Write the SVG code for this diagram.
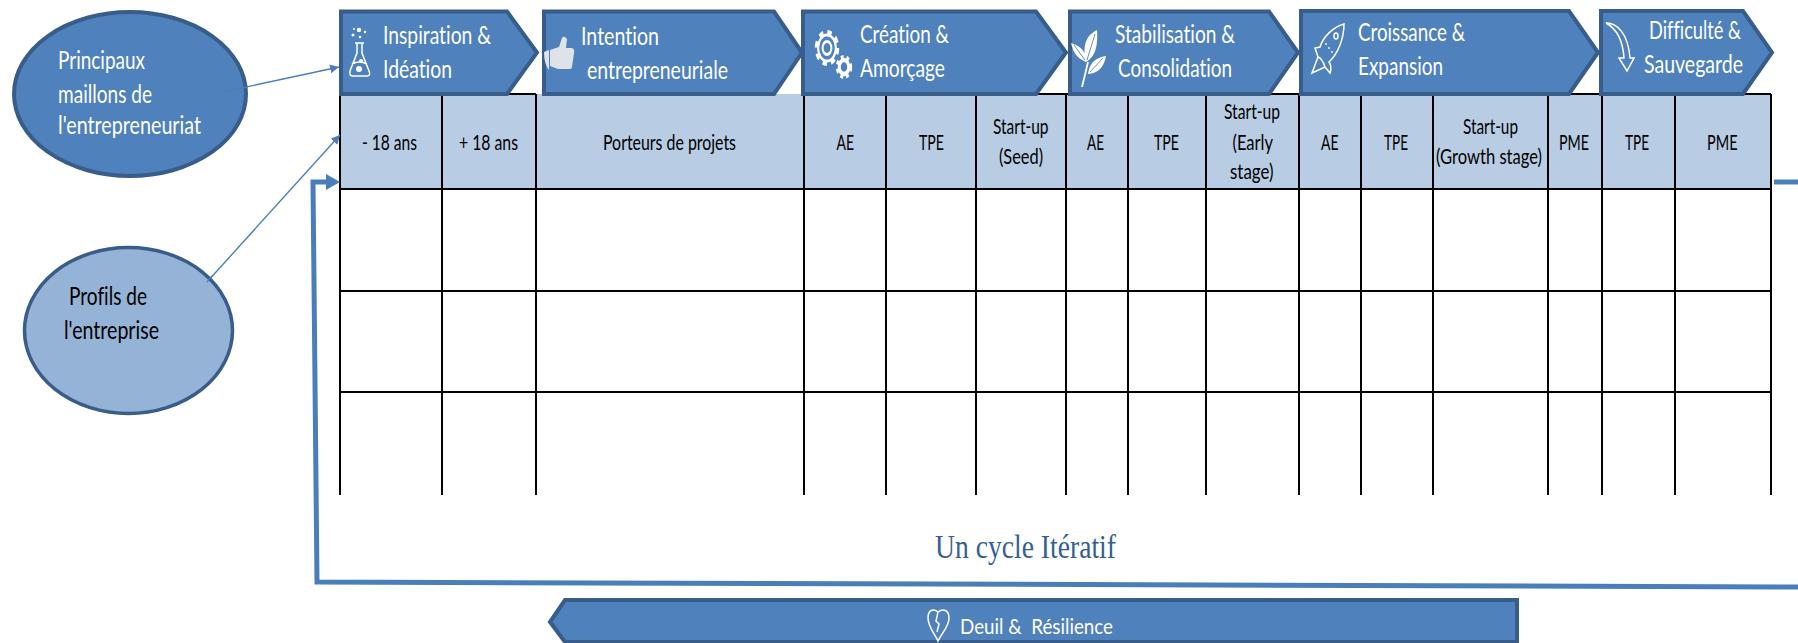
<svg xmlns="http://www.w3.org/2000/svg" width="1798" height="643" viewBox="0 0 1798 643">
<style>
text{font-family:Lato,"Liberation Sans",sans-serif;font-variant-ligatures:none}
.c{fill:#4f81bd;stroke:#385d8a;stroke-width:4;stroke-linejoin:miter}
.w{fill:#fff;font-size:25px}
.h{fill:#000;font-size:21px}
.g{stroke:#000;stroke-width:2;fill:none}
.a{stroke:#4a7ebb;stroke-width:1.4;fill:none}
.l{stroke:#4a7ebb;stroke-width:5;fill:none}
.i{fill:none;stroke:#fff;stroke-width:1.5}
.f{fill:#fff;stroke:none}
</style>
<defs>
<marker id="ah" markerUnits="userSpaceOnUse" markerWidth="10" markerHeight="10" refX="9" refY="4.5" orient="auto"><path d="M0,0L9,4.5L0,9Z" fill="#4a7ebb"/></marker>
</defs>
<g id="table">
<rect x="340" y="94" width="1431" height="95" fill="#b8cce4"/>
<path class="g" d="M340,94H536M804,94H1771M340,189H1771M340,291H1771M340,392H1771"/>
<path class="g" d="M340,94V495M442,94V495M536,94V495M804,94V495M886,94V495M976,94V495M1066,94V495M1128,94V495M1206,94V495M1299,94V495M1361,94V495M1433,94V495M1548,94V495M1602,94V495M1675,94V495M1771,94V495"/>
<text class="h" x="362" y="150" textLength="55" lengthAdjust="spacingAndGlyphs">- 18 ans</text>
<text class="h" x="459" y="150" textLength="59" lengthAdjust="spacingAndGlyphs">+ 18 ans</text>
<text class="h" x="603" y="150" textLength="133" lengthAdjust="spacingAndGlyphs">Porteurs de projets</text>
<text class="h" x="836.500" y="150" textLength="17.500" lengthAdjust="spacingAndGlyphs">AE</text>
<text class="h" x="919" y="150" textLength="25" lengthAdjust="spacingAndGlyphs">TPE</text>
<text class="h" x="993" y="134" textLength="55.500" lengthAdjust="spacingAndGlyphs">Start-up</text>
<text class="h" x="999" y="164" textLength="44" lengthAdjust="spacingAndGlyphs">(Seed)</text>
<text class="h" x="1087" y="150" textLength="17" lengthAdjust="spacingAndGlyphs">AE</text>
<text class="h" x="1154" y="150" textLength="25" lengthAdjust="spacingAndGlyphs">TPE</text>
<text class="h" x="1224" y="119" textLength="56" lengthAdjust="spacingAndGlyphs">Start-up</text>
<text class="h" x="1232.500" y="150" textLength="40.500" lengthAdjust="spacingAndGlyphs">(Early</text>
<text class="h" x="1230" y="179" textLength="43.500" lengthAdjust="spacingAndGlyphs">stage)</text>
<text class="h" x="1321" y="150" textLength="17.500" lengthAdjust="spacingAndGlyphs">AE</text>
<text class="h" x="1384" y="150" textLength="24" lengthAdjust="spacingAndGlyphs">TPE</text>
<text class="h" x="1463" y="134" textLength="55" lengthAdjust="spacingAndGlyphs">Start-up</text>
<text class="h" x="1436" y="164" textLength="106" lengthAdjust="spacingAndGlyphs">(Growth stage)</text>
<text class="h" x="1559" y="150" textLength="30" lengthAdjust="spacingAndGlyphs">PME</text>
<text class="h" x="1625" y="150" textLength="24" lengthAdjust="spacingAndGlyphs">TPE</text>
<text class="h" x="1707" y="150" textLength="30.500" lengthAdjust="spacingAndGlyphs">PME</text>
</g>
<g id="connectors">
<path class="a" marker-end="url(#ah)" d="M223,92L339,67"/>
<path class="a" marker-end="url(#ah)" d="M207,282L340,135"/>
<path class="l" d="M1798,587L317,582L313,182H328"/>
<path d="M326,174L340,182L326,190Z" fill="#4a7ebb"/>
<path class="l" d="M1774,182H1798"/>
</g>
<g id="ellipse-maillons">
<ellipse cx="130" cy="94" rx="116" ry="82" fill="#4f81bd" stroke="#385d8a" stroke-width="4"/>
<path class="a" d="M223,92L247,87"/>
<text class="w" x="58" y="69" textLength="87" lengthAdjust="spacingAndGlyphs">Principaux</text>
<text class="w" x="58" y="103" textLength="94" lengthAdjust="spacingAndGlyphs">maillons de</text>
<text class="w" x="58" y="134" textLength="143" lengthAdjust="spacingAndGlyphs">l'entrepreneuriat</text>
</g>
<g id="ellipse-profils">
<ellipse cx="128.500" cy="330.500" rx="104" ry="83" fill="#95b3d7" stroke="#385d8a" stroke-width="3.500"/>
<path class="a" d="M207,282L212,276"/>
<text class="w" x="69" y="305" textLength="78" lengthAdjust="spacingAndGlyphs" style="fill:#000">Profils de</text>
<text class="w" x="64" y="339" textLength="95" lengthAdjust="spacingAndGlyphs" style="fill:#000">l'entreprise</text>
</g>
<g id="inspiration">
<path class="c" d="M341,11.500H507L537,52.500L507,94H341Z"/>
<path class="i" d="M357,43V53L350,71Q349,76 353,76H367Q371,76 369,71L362,53V43M355,43H364M352,64Q359,60 367,64"/>
<g class="f"><circle cx="359" cy="69" r="3"/><circle cx="361" cy="61" r="2"/><circle cx="359" cy="30" r="2.200"/><circle cx="353" cy="35" r="1.500"/><circle cx="365" cy="32" r="1.200"/><circle cx="354" cy="29" r="1"/><circle cx="360" cy="37" r="1.300"/></g>
<text class="w" x="383" y="44" textLength="108" lengthAdjust="spacingAndGlyphs">Inspiration &amp;</text>
<text class="w" x="383" y="78" textLength="69" lengthAdjust="spacingAndGlyphs">Idéation</text>
</g>
<g id="intention">
<path class="c" d="M544,11.500H774L802,52.500L774,94H544Z"/>
<path d="M550,50L559,47L562,38Q564,35 567,39L566,48H572Q575,49 574,53L572,67Q572,69 569,69H558L550,66ZM544,52L549,50V70Q544,64 544,52Z" fill="#dfe3e8"/>
<text class="w" x="581" y="45" textLength="78" lengthAdjust="spacingAndGlyphs">Intention</text>
<text class="w" x="587" y="79" textLength="141" lengthAdjust="spacingAndGlyphs">entrepreneuriale</text>
</g>
<g id="creation">
<path class="c" d="M803,11.500H1036L1066,52.500L1036,94H803Z"/>
<g transform="translate(827,48) scale(.68,1)" fill="none" stroke="#fff"><circle r="15" stroke-width="6" stroke-dasharray="6 5.800"/><circle r="13" stroke-width="3"/><circle r="6.500" stroke-width="3"/></g>
<g transform="translate(844,67) scale(.68,1)" fill="none" stroke="#fff"><circle r="9.500" stroke-width="5" stroke-dasharray="4 4"/><circle r="7" stroke-width="4.500"/></g>
<text class="w" x="860" y="43" textLength="89" lengthAdjust="spacingAndGlyphs">Création &amp;</text>
<text class="w" x="860" y="77" textLength="85" lengthAdjust="spacingAndGlyphs">Amorçage</text>
</g>
<g id="stabilisation">
<path class="c" d="M1070,11.500H1269L1298,52.500L1269,94H1070Z"/>
<path d="M1082,87Q1085,75 1088,62" fill="none" stroke="#fff" stroke-width="1.800"/>
<path class="f" d="M1097,30Q1080,38 1086,62Q1099,55 1097,30ZM1106,56Q1090,58 1088,74Q1103,73 1106,56ZM1071,43Q1074,58 1086,62Q1087,48 1071,43Z"/>
<path d="M1074,45L1085,60M1095,34L1087,60M1103,58L1090,72" stroke="#4f81bd" stroke-width=".9" fill="none"/>
<text class="w" x="1115" y="43" textLength="120" lengthAdjust="spacingAndGlyphs">Stabilisation &amp;</text>
<text class="w" x="1118" y="77" textLength="114" lengthAdjust="spacingAndGlyphs">Consolidation</text>
</g>
<g id="croissance">
<path class="c" d="M1301,11H1569L1598,52.500L1569,94H1301Z"/>
<path class="i" d="M1344,24C1333,27 1323,37 1320,47L1315,48L1318,57L1312,73L1325,67L1330,73C1332,68 1330,63 1329,62C1338,54 1344,38 1344,24ZM1318,57Q1322,58 1325,67"/>
<ellipse cx="1336" cy="36" rx="2" ry="3" class="i"/>
<g class="f"><circle cx="1326" cy="44" r=".9"/><circle cx="1329" cy="48" r=".9"/><circle cx="1332" cy="52" r=".9"/></g>
<text class="w" x="1358" y="41" textLength="107" lengthAdjust="spacingAndGlyphs">Croissance &amp;</text>
<text class="w" x="1358" y="75" textLength="85" lengthAdjust="spacingAndGlyphs">Expansion</text>
</g>
<g id="difficulte">
<path class="c" d="M1601,11H1743L1772,52.500L1743,94H1601Z"/>
<path class="i" d="M1606,23C1617,23 1628,33 1630,58H1634L1627,71L1619,58H1624C1623,42 1617,29 1606,23Z"/>
<text class="w" x="1649" y="39" textLength="92" lengthAdjust="spacingAndGlyphs">Difficulté &amp;</text>
<text class="w" x="1644" y="73" textLength="99" lengthAdjust="spacingAndGlyphs">Sauvegarde</text>
</g>
<g id="deuil">
<path class="c" d="M1517,600H565L550,622L565,642H1517Z"/>
<path class="i" d="M938,612C933,608 928,610 928,618C928,627 935,634 938,641C941,634 949,627 949,618C949,610 943,608 938,612L936,621L939,624L937,632"/>
<text class="w" x="960" y="634" textLength="153" lengthAdjust="spacingAndGlyphs" style="font-size:22px" xml:space="preserve">Deuil &amp;  Résilience</text>
</g>
<g id="cycle-label">
<text x="935" y="558" textLength="181" lengthAdjust="spacingAndGlyphs" style="font-family:'Liberation Serif',serif;font-size:34px;fill:#365f91">Un cycle Itératif</text>
</g>
</svg>
